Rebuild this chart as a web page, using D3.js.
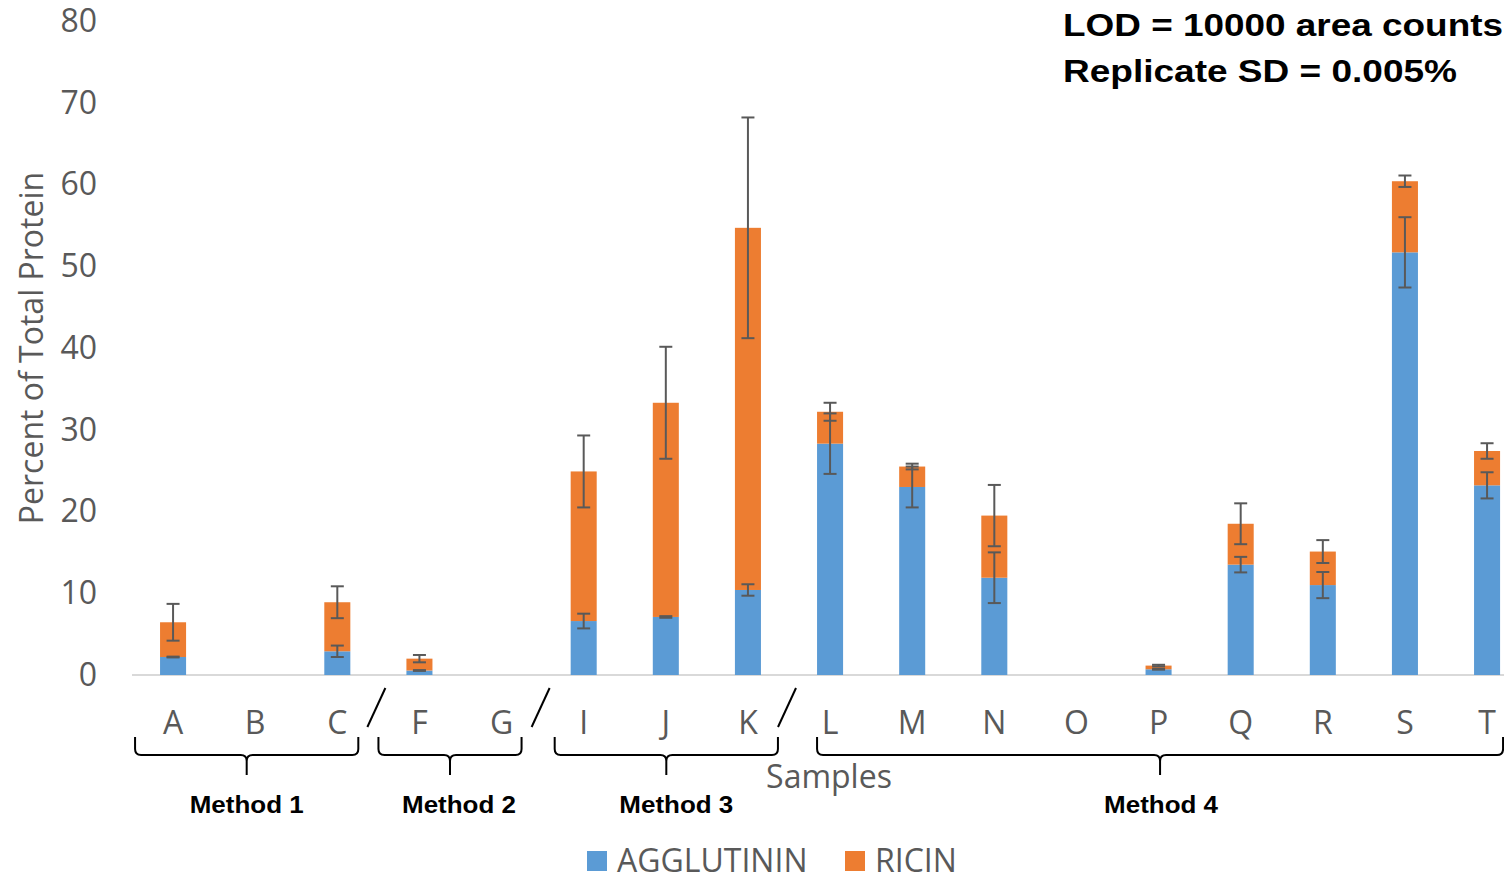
<!DOCTYPE html>
<html>
<head>
<meta charset="utf-8">
<script src="https://cdn.jsdelivr.net/npm/d3@7"></script>
<style>
  body { margin: 0; background: #fff; }
  svg { display: block; }
</style>
</head>
<body>
<svg id="chart" width="1504" height="875"></svg>
<script>
// samples and values (percent of total protein)
const categories = ["A", "B", "C", "F", "G", "I", "J", "K", "L", "M", "N", "O", "P", "Q", "R", "S", "T"];
const agglutinin = [2.2, 0, 2.9, 0.55, 0, 6.6, 7.1, 10.4, 28.3, 23.0, 11.9, 0, 0.7, 13.5, 11.0, 51.7, 23.2];
const ricin = [4.25, 0, 6.0, 1.45, 0, 18.3, 26.2, 44.3, 3.9, 2.5, 7.6, 0, 0.45, 5.0, 4.1, 8.7, 4.2];
const agglutininSD = [0.05, 0, 0.7, 0.05, 0, 0.9, 0.1, 0.7, 3.7, 2.5, 3.1, 0, 0.05, 0.95, 1.6, 4.3, 1.6];
const ricinSD = [2.25, 0, 1.95, 0.45, 0, 4.4, 6.85, 13.5, 1.1, 0.35, 3.75, 0, 0.1, 2.5, 1.4, 0.7, 0.95];
const seriesNames = ["AGGLUTININ", "RICIN"];
const yTicks = [0, 10, 20, 30, 40, 50, 60, 70, 80];
const methods = [
    {label: "Method 1", from: "A", to: "C"},
    {label: "Method 2", from: "F", to: "G"},
    {label: "Method 3", from: "I", to: "K"},
    {label: "Method 4", from: "L", to: "T"}
];
const notes = ["LOD = 10000 area counts", "Replicate SD = 0.005%"];

const colors = {AGGLUTININ: "#5b9bd5", RICIN: "#ed7d31"};
const textColor = "#595959";
const font = "'Open Sans', sans-serif";
const fontSize = "32px";
const boldFont = "'Liberation Sans', Arial, sans-serif";

const svg = d3.select("#chart");

const plotLeft = 132, step = 82.125;
const x = d3.scaleBand()
    .domain(categories)
    .range([plotLeft, plotLeft + step * categories.length])
    .paddingInner(0.683)
    .paddingOuter(0.683 / 2);

const y = d3.scaleLinear().domain([0, 80]).range([675, 21]);

const rows = categories.map((c, i) => ({
    cat: c, AGGLUTININ: agglutinin[i], RICIN: ricin[i],
    sdA: agglutininSD[i], sdR: ricinSD[i]
}));

const stack = d3.stack().keys(seriesNames)(rows);

// y axis labels
const yAxis = svg.append("g")
    .attr("transform", `translate(${plotLeft},0)`)
    .call(d3.axisLeft(y).tickValues(yTicks).tickSize(0).tickPadding(35));
yAxis.select(".domain").remove();
yAxis.selectAll("text")
    .style("font-family", font)
    .style("font-size", fontSize)
    .attr("fill", textColor);

// baseline
svg.append("line")
    .attr("x1", plotLeft).attr("x2", 1504)
    .attr("y1", y(0)).attr("y2", y(0))
    .attr("stroke", "#d9d9d9")
    .attr("stroke-width", 2);

// stacked bars
svg.append("g")
    .selectAll("g")
    .data(stack)
    .join("g")
    .attr("fill", d => colors[d.key])
    .selectAll("rect")
    .data(d => d)
    .join("rect")
    .attr("x", d => x(d.data.cat))
    .attr("width", x.bandwidth())
    .attr("y", d => y(d[1]))
    .attr("height", d => Math.max(0, y(d[0]) - y(d[1])));

// error bars
const errs = [];
rows.forEach(r => {
    const top = r.AGGLUTININ + r.RICIN;
    if (r.sdA > 0) errs.push({cat: r.cat, v: r.AGGLUTININ, sd: r.sdA});
    if (r.sdR > 0) errs.push({cat: r.cat, v: top, sd: r.sdR});
});
const cap = 6.5;
const eg = svg.append("g")
    .attr("stroke", "#595959")
    .attr("stroke-width", 2)
    .selectAll("g")
    .data(errs)
    .join("g")
    .attr("transform", d => `translate(${x(d.cat) + x.bandwidth() / 2},0)`);
eg.append("line")
    .attr("y1", d => y(d.v - d.sd)).attr("y2", d => y(d.v + d.sd));
eg.append("line")
    .attr("x1", -cap).attr("x2", cap)
    .attr("y1", d => y(d.v + d.sd)).attr("y2", d => y(d.v + d.sd));
eg.append("line")
    .attr("x1", -cap).attr("x2", cap)
    .attr("y1", d => y(d.v - d.sd)).attr("y2", d => y(d.v - d.sd));

// category labels
svg.append("g")
    .selectAll("text")
    .data(categories)
    .join("text")
    .attr("x", d => x(d) + x.bandwidth() / 2)
    .attr("y", 723)
    .attr("dy", "0.35em")
    .attr("text-anchor", "middle")
    .style("font-family", font)
    .style("font-size", fontSize)
    .attr("fill", textColor)
    .text(d => d);

// axis titles
svg.append("text")
    .attr("transform", "translate(32,348) rotate(-90)")
    .attr("text-anchor", "middle")
    .attr("dy", "0.35em")
    .style("font-family", font)
    .style("font-size", fontSize)
    .attr("fill", textColor)
    .text("Percent of Total Protein");

svg.append("text")
    .attr("x", 829).attr("y", 777)
    .attr("dy", "0.35em")
    .attr("text-anchor", "middle")
    .style("font-family", font)
    .style("font-size", fontSize)
    .attr("fill", textColor)
    .text("Samples");

// method braces
const bracePad = [[38, 21], [41, 20], [29, 30], [13, 16]];
const labelShift = [0, 9, 10, 1];
const braceTop = 737, braceMid = 755, braceTip = 775;
methods.forEach((m, i) => {
    const l = x(m.from) + x.bandwidth() / 2 - bracePad[i][0];
    const r = x(m.to) + x.bandwidth() / 2 + bracePad[i][1];
    const c = (l + r) / 2;
    const path = `M${l},${braceTop} L${l},${braceMid - 6} Q${l},${braceMid} ${l + 6},${braceMid}
        L${c - 6},${braceMid} Q${c},${braceMid} ${c},${braceMid + 6} L${c},${braceTip}
        M${c},${braceMid + 6} Q${c},${braceMid} ${c + 6},${braceMid}
        L${r - 6},${braceMid} Q${r},${braceMid} ${r},${braceMid - 6} L${r},${braceTop}`;
    svg.append("path")
        .attr("d", path)
        .attr("fill", "none")
        .attr("stroke", "#000")
        .attr("stroke-width", 2);
    svg.append("text")
        .attr("x", c + labelShift[i] - 57).attr("y", 805)
        .attr("dy", "0.35em")
        .attr("textLength", 114)
        .attr("lengthAdjust", "spacingAndGlyphs")
        .style("font-family", boldFont)
        .style("font-size", "24px")
        .style("font-weight", "bold")
        .attr("fill", "#000")
        .text(m.label);
});

// slashes between method groups
for (let i = 0; i < methods.length - 1; i++) {
    const a = x(methods[i].to) + x.bandwidth() / 2;
    const b = x(methods[i + 1].from) + x.bandwidth() / 2;
    const mx = (a + b) / 2 - 2;
    svg.append("line")
        .attr("x1", mx - 9).attr("y1", 727)
        .attr("x2", mx + 9).attr("y2", 688)
        .attr("stroke", "#000")
        .attr("stroke-width", 2);
}

// legend
const legend = svg.append("g").attr("transform", "translate(587,851)");
const lx = [0, 258];
seriesNames.forEach((s, i) => {
    const g = legend.append("g").attr("transform", `translate(${lx[i]},0)`);
    g.append("rect").attr("width", 20).attr("height", 20).attr("fill", colors[s]);
    g.append("text")
        .attr("x", 30).attr("y", 10)
        .attr("dy", "0.35em")
        .style("font-family", font)
        .style("font-size", fontSize)
        .attr("fill", textColor)
        .text(s);
});

// notes, top right
const noteLen = [440, 394];
svg.append("g")
    .selectAll("text")
    .data(notes)
    .join("text")
    .attr("x", 1063)
    .attr("y", (d, i) => 36 + i * 46)
    .attr("textLength", (d, i) => noteLen[i])
    .attr("lengthAdjust", "spacingAndGlyphs")
    .style("font-family", boldFont)
    .style("font-size", "31px")
    .style("font-weight", "bold")
    .attr("fill", "#000")
    .text(d => d);
</script>
</body>
</html>
